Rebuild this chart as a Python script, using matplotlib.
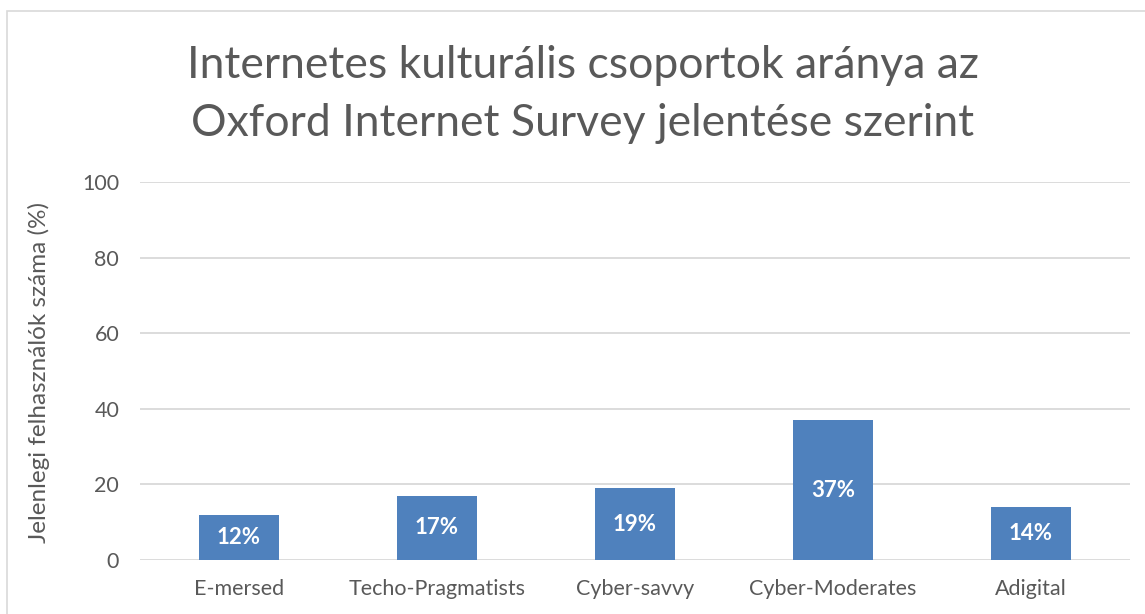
import matplotlib
matplotlib.use("Agg")
import matplotlib.pyplot as plt
from matplotlib.patches import Rectangle

categories = ["E-mersed", "Techo-Pragmatists", "Cyber-savvy", "Cyber-Moderates", "Adigital"]
values = [12, 17, 19, 37, 14]
yticks = [0, 20, 40, 60, 80, 100]
title_lines = ["Internetes kulturális csoportok aránya az",
               "Oxford Internet Survey jelentése szerint"]
ylabel = "Jelenlegi felhasználók száma (%)"

plt.rcParams['font.family'] = ['Lato', 'DejaVu Sans']
W, H = 1145, 614
fig = plt.figure(figsize=(W/100, H/100), dpi=100)
fig.patch.set_facecolor('white')

# chart border (cropped at right/bottom)
fig.add_artist(Rectangle((7/W, -0.1), 1.2, 1 - 11/H + 0.1, transform=fig.transFigure,
                         fill=False, edgecolor='#d9d9d9', linewidth=1.2))

ax = fig.add_axes([140/W, (H-560)/H, (1130-140)/W, (560-182)/H])
x = range(len(categories))
bars = ax.bar(x, values, width=0.4, color='#4F81BD', zorder=3)
ax.set_xlim(-0.5, len(categories) - 0.5)
ax.set_ylim(0, 100)
ax.set_yticks(yticks)
ax.set_xticks(list(x))
ax.set_xticklabels(categories)
for s in ax.spines.values():
    s.set_visible(False)
ax.grid(axis='y', color='#d9d9d9', linewidth=1.3, zorder=0)
ax.tick_params(axis='both', length=0, labelsize=15.5, colors='#595959')
ax.tick_params(axis='x', pad=14)
ax.tick_params(axis='y', pad=15)
ax.set_ylabel(ylabel, fontsize=17.5, color='#595959')
ax.yaxis.set_label_coords(-0.091, 0.497)

for b, v in zip(bars, values):
    ax.text(b.get_x() + b.get_width()/2, v/2, f"{v}%", ha='center', va='center',
            color='white', fontsize=16, fontweight='bold', zorder=4)

for line, yc in zip(title_lines, [66, 123]):
    fig.text(583/W, 1 - yc/H, line, ha='center', va='center', fontsize=32,
             color='#595959')

fig.savefig("out.png", dpi=100)
